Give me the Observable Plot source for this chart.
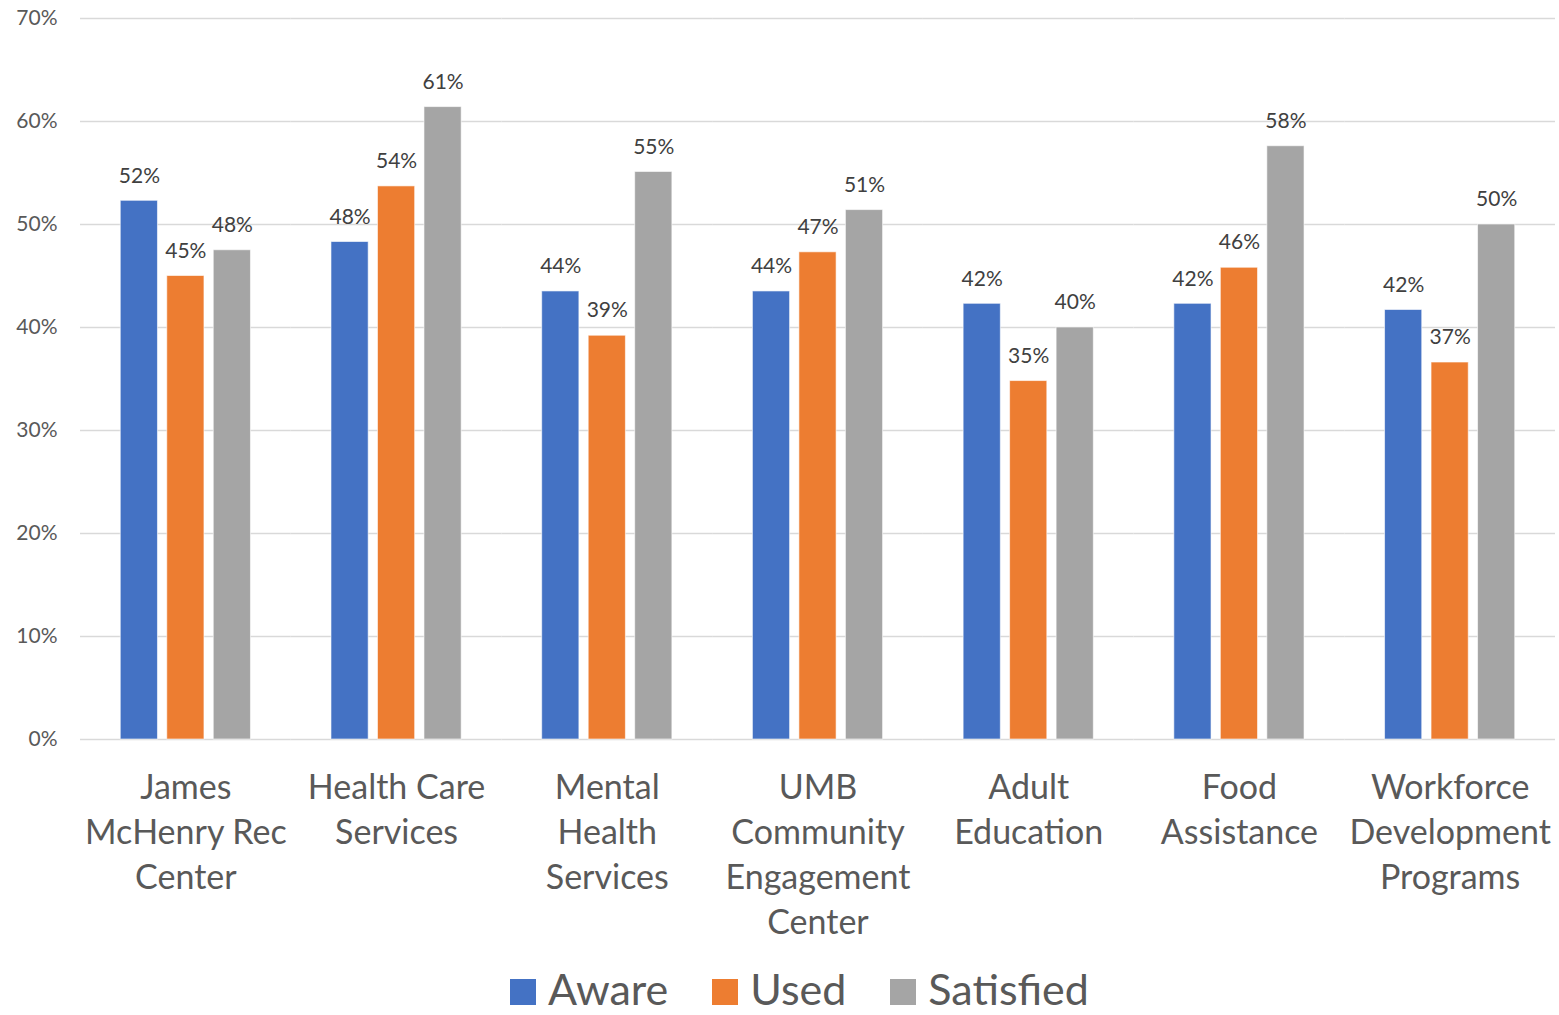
<!DOCTYPE html>
<html>
<head>
<meta charset="utf-8">
<script src="https://cdn.jsdelivr.net/npm/d3@7"></script>
<script src="https://cdn.jsdelivr.net/npm/@observablehq/plot@0.6"></script>
<style>
  body { margin: 0; background: white; font-family: Lato, sans-serif; overflow: hidden; }
  #legend { position: absolute; left: 0; top: 972px; width: 1559px; height: 34px; display: flex; justify-content: center; align-items: flex-start; padding-left: 40px; box-sizing: border-box; color: #595959; font-size: 43px; }
  .item { display: flex; align-items: flex-start; margin: 0 22px; }
  .sw { width: 26px; height: 26px; margin-right: 12px; margin-top: 7px; }
  .lt { display: inline-block; height: 34px; line-height: 34px; }
</style>
</head>
<body>
<div id="chart"></div>
<div id="legend"></div>
<script>
const groups = ["James McHenry Rec Center", "Health Care Services", "Mental Health Services", "UMB Community Engagement Center", "Adult Education", "Food Assistance", "Workforce Development Programs"];
const groupLabels = ["James\nMcHenry Rec\nCenter", "Health Care\nServices", "Mental\nHealth\nServices", "UMB\nCommunity\nEngagement\nCenter", "Adult\nEducation", "Food\nAssistance", "Workforce\nDevelopment\nPrograms"];
const series = ["Aware", "Used", "Satisfied"];
const aware = [52.3, 48.3, 43.5, 43.5, 42.3, 42.3, 41.7];
const used = [45.0, 53.7, 39.2, 47.3, 34.8, 45.8, 36.6];
const satisfied = [47.5, 61.4, 55.1, 51.4, 40.0, 57.6, 50.0];
const yTicks = [0, 10, 20, 30, 40, 50, 60, 70];
const colors = ["#4472C4", "#ED7D31", "#A5A5A5"];

const valuesBySeries = [aware, used, satisfied];
const data = [];
groups.forEach((g, i) => series.forEach((s, j) => data.push({group: g, series: s, value: valuesBySeries[j][i]})));

const halfGap = 210.71 * 0.338 / 2;

const chart = Plot.plot({
  width: 1559,
  height: 950,
  marginTop: 18,
  marginLeft: 80,
  marginRight: 4,
  marginBottom: 211,
  style: {fontFamily: "Lato, sans-serif", background: "white"},
  fx: {domain: groups, paddingInner: 0.338, paddingOuter: 0.169, round: false, label: null},
  x: {domain: series, paddingInner: 0.2, paddingOuter: 0.1, round: false, axis: null},
  y: {domain: [0, 70], label: null},
  color: {domain: series, range: colors},
  marks: [
    Plot.ruleY(yTicks, {y: d => d, stroke: "#d9d9d9", strokeWidth: 1.5, insetLeft: -halfGap, insetRight: -halfGap}),
    Plot.axisY({ticks: yTicks, tickFormat: d => d + "%", tickSize: 0, tickPadding: 23 + halfGap, fontSize: 21, fill: "#595959", label: null}),
    Plot.barY(data, {fx: "group", x: "series", y: "value", fill: "series", stroke: "white", strokeOpacity: 0.6, strokeWidth: 1}),
    Plot.text(data, {fx: "group", x: "series", y: "value", text: d => Math.round(d.value) + "%", dy: -25, fontSize: 21, fill: "#404040"}),
    Plot.axisFx({anchor: "bottom", tickFormat: d => groupLabels[groups.indexOf(d)], tickSize: 0, tickPadding: 28, fontSize: 34, lineHeight: 1.32, fill: "#595959", label: null})
  ]
});
document.getElementById("chart").append(chart);

const legend = document.getElementById("legend");
series.forEach((s, i) => {
  const item = document.createElement("div");
  item.className = "item";
  const sw = document.createElement("div");
  sw.className = "sw";
  sw.style.background = colors[i];
  const t = document.createElement("span");
  t.className = "lt";
  t.textContent = s;
  item.append(sw, t);
  legend.append(item);
});
</script>
</body>
</html>
